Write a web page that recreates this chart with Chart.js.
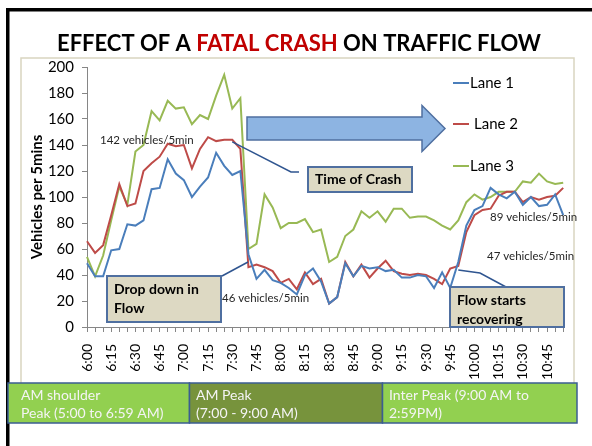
<!DOCTYPE html>
<html lang="en">
<head>
<meta charset="UTF-8">
<title>Effect of a Fatal Crash on Traffic Flow</title>
<script src="https://cdn.jsdelivr.net/npm/chart.js"></script>
<style>
  html, body { margin: 0; padding: 0; background: #fff; }
</style>
</head>
<body>
<canvas id="flowChart" width="592" height="446"></canvas>
<script>
// 5-minute counts, 6:00 to 10:55
const times = [
  "6:00","6:05","6:10","6:15","6:20","6:25","6:30","6:35","6:40","6:45","6:50","6:55",
  "7:00","7:05","7:10","7:15","7:20","7:25","7:30","7:35","7:40","7:45","7:50","7:55",
  "8:00","8:05","8:10","8:15","8:20","8:25","8:30","8:35","8:40","8:45","8:50","8:55",
  "9:00","9:05","9:10","9:15","9:20","9:25","9:30","9:35","9:40","9:45","9:50","9:55",
  "10:00","10:05","10:10","10:15","10:20","10:25","10:30","10:35","10:40","10:45","10:50","10:55"
];
const tickLabels = [
  "6:00","6:15","6:30","6:45","7:00","7:15","7:30","7:45","8:00","8:15",
  "8:30","8:45","9:00","9:15","9:30","9:45","10:00","10:15","10:30","10:45"
];
const lane1 = [
  49, 39, 39, 59, 60, 79, 78, 82, 106, 107, 129, 118, 113, 100, 108, 115, 134, 124, 117, 120,
  56, 37, 44, 36, 34, 30, 25, 40, 45, 35, 18, 23, 49, 39, 47, 45, 46, 43, 44, 38,
  38, 40, 39, 30, 42, 30, 50, 78, 90, 93, 107, 102, 99, 104, 94, 100, 93, 94, 102, 86
];
const lane2 = [
  66, 57, 63, 86, 110, 93, 95, 120, 126, 131, 141, 139, 140, 122, 137, 146, 143, 144, 144, 137,
  46, 48, 46, 43, 34, 37, 29, 42, 33, 37, 18, 23, 50, 39, 48, 38, 45, 51, 43, 41,
  40, 41, 40, 37, 33, 45, 47, 73, 86, 90, 91, 101, 104, 104, 96, 100, 98, 100, 101, 107
];
const lane3 = [
  54, 39, 55, 82, 108, 94, 135, 140, 166, 159, 174, 168, 169, 156, 163, 160, 178, 194, 168, 176,
  60, 64, 102, 92, 76, 80, 80, 83, 73, 75, 50, 54, 70, 75, 89, 84, 89, 81, 91, 91,
  84, 85, 85, 82, 78, 75, 82, 96, 102, 98, 100, 104, 104, 104, 112, 111, 118, 112, 110, 111
];
const periods = [
  { lines: ["AM shoulder", "Peak (5:00 to 6:59 AM)"], color: "#92D050" },
  { lines: ["AM Peak", "(7:00 - 9:00 AM)"], color: "#77933C" },
  { lines: ["Inter Peak (9:00 AM to", "2:59PM)"], color: "#92D050" }
];

const FONT = "Lato, 'Open Sans', sans-serif";

function noteBox(ctx, x, y, w, h, lines, lineYs) {
  ctx.fillStyle = "#DDD9C3";
  ctx.fillRect(x, y, w, h);
  ctx.strokeStyle = "#4F6FA0";
  ctx.lineWidth = 2;
  ctx.strokeRect(x, y, w, h);
  ctx.fillStyle = "#000";
  ctx.font = "bold 14px " + FONT;
  ctx.textAlign = "left";
  ctx.textBaseline = "middle";
  lines.forEach((t, i) => ctx.fillText(t, x + 7, lineYs[i]));
}

function connector(ctx, pts) {
  ctx.strokeStyle = "#2F5590";
  ctx.lineWidth = 1.5;
  ctx.beginPath();
  ctx.moveTo(pts[0][0], pts[0][1]);
  for (let i = 1; i < pts.length; i++) ctx.lineTo(pts[i][0], pts[i][1]);
  ctx.stroke();
}

const decor = {
  id: "decor",
  beforeDraw(chart) {
    const ctx = chart.ctx;
    ctx.save();
    ctx.fillStyle = "#fff";
    ctx.fillRect(0, 0, chart.width, chart.height);
    // slide frame
    ctx.fillStyle = "#000";
    ctx.fillRect(6, 8, 586, 3.5);
    ctx.fillRect(6, 8, 3.5, 438);
    // chart border
    ctx.strokeStyle = "#D9D5C0";
    ctx.lineWidth = 1.5;
    ctx.strokeRect(21, 58, 553, 326);
    // title
    const parts = [["EFFECT OF A ", "#000"], ["FATAL CRASH", "#C00000"], [" ON TRAFFIC FLOW", "#000"]];
    ctx.font = "bold 24px " + FONT;
    const full = parts.map(p => p[0]).join("");
    const size = 24 * 484 / ctx.measureText(full).width;
    ctx.font = "bold " + size.toFixed(1) + "px " + FONT;
    ctx.textBaseline = "alphabetic";
    ctx.textAlign = "left";
    let x = 299 - ctx.measureText(full).width / 2;
    parts.forEach(p => {
      ctx.fillStyle = p[1];
      ctx.fillText(p[0], x, 51);
      x += ctx.measureText(p[0]).width;
    });
    ctx.restore();
  },
  afterDatasetsDraw(chart) {
    const ctx = chart.ctx;
    const xs = chart.scales.x, ys = chart.scales.y;
    ctx.save();

    // block arrow
    ctx.beginPath();
    ctx.moveTo(247, 117);
    ctx.lineTo(422, 117);
    ctx.lineTo(422, 105.5);
    ctx.lineTo(445, 128.5);
    ctx.lineTo(422, 151.5);
    ctx.lineTo(422, 140);
    ctx.lineTo(247, 140);
    ctx.closePath();
    ctx.fillStyle = "#8DB4E2";
    ctx.fill();
    ctx.strokeStyle = "#4F6FA0";
    ctx.lineWidth = 1.5;
    ctx.stroke();

    // value notes
    ctx.fillStyle = "#262626";
    ctx.font = "11.5px " + FONT;
    ctx.textBaseline = "middle";
    ctx.textAlign = "left";
    ctx.fillText("142 vehicles/5min", 100, 140);
    ctx.fillText("46 vehicles/5min", 222, 298);
    ctx.fillText("89 vehicles/5min", 490, 217);
    ctx.fillText("47 vehicles/5min", 487, 256);

    // callouts
    connector(ctx, [[299, 172], [291, 172], [xs.getPixelForValue(18), ys.getPixelForValue(lane2[18]) + 2]]);
    noteBox(ctx, 308, 167, 104, 25, ["Time of Crash"], [179.5]);

    connector(ctx, [[222, 276], [248, 262]]);
    noteBox(ctx, 107, 276, 114, 46, ["Drop down in", "Flow"], [289, 308]);

    connector(ctx, [[506, 287], [480, 273], [xs.getPixelForValue(46), ys.getPixelForValue(lane2[46]) + 4]]);
    noteBox(ctx, 450, 287, 114, 40, ["Flow starts", "recovering"], [300, 319]);

    // legend
    ctx.font = "15px " + FONT;
    ctx.textBaseline = "middle";
    const rows = [83, 124, 166];
    chart.data.datasets.forEach((ds, i) => {
      ctx.strokeStyle = ds.borderColor;
      ctx.lineWidth = 2;
      ctx.beginPath();
      ctx.moveTo(453, rows[i]);
      ctx.lineTo(469, rows[i]);
      ctx.stroke();
      ctx.fillStyle = "#000";
      ctx.fillText(ds.label, i === 1 ? 474 : 470, rows[i]);
    });

    // time-of-day periods
    const edges = [8, 189.5, 382.5, 577];
    const top = 383, h = 40;
    ctx.font = "14px " + FONT;
    periods.forEach((p, i) => {
      const x0 = edges[i], x1 = edges[i + 1];
      ctx.fillStyle = p.color;
      ctx.fillRect(x0, top, x1 - x0, h);
      ctx.strokeStyle = "#3B5E91";
      ctx.lineWidth = 1.5;
      ctx.strokeRect(x0, top, x1 - x0, h);
      ctx.fillStyle = "#F4F4F4";
      ctx.textAlign = "left";
      p.lines.forEach((t, j) => ctx.fillText(t, (i === 0 ? 21 : x0 + 6.5), top + 12 + j * 18));
    });
    ctx.restore();
  }
};

const ctx = document.getElementById("flowChart").getContext("2d");
new Chart(ctx, {
  type: "line",
  data: {
    labels: times,
    datasets: [
      { label: "Lane 1", data: lane1, borderColor: "#4A7EBB", backgroundColor: "#4A7EBB" },
      { label: "Lane 2", data: lane2, borderColor: "#BE4B48", backgroundColor: "#BE4B48" },
      { label: "Lane 3", data: lane3, borderColor: "#98B954", backgroundColor: "#98B954" }
    ]
  },
  options: {
    responsive: false,
    animation: false,
    layout: { padding: { left: 0, top: 67, right: 24, bottom: 60 } },
    elements: {
      point: { radius: 0 },
      line: { borderWidth: 2, tension: 0 }
    },
    plugins: {
      legend: { display: false },
      tooltip: { enabled: false }
    },
    scales: {
      x: {
        offset: false,
        grid: { drawOnChartArea: false, color: "#868686", tickLength: 5 },
        border: { color: "#868686" },
        ticks: {
          autoSkip: false,
          minRotation: 90,
          maxRotation: 90,
          padding: 12,
          color: "#000",
          font: { family: FONT, size: 14 },
          callback: function (v) {
            const l = this.getLabelForValue(v);
            return tickLabels.includes(l) ? l : "";
          }
        },
        afterFit: s => { s.height = 59; }
      },
      y: {
        min: 0,
        max: 200,
        grid: { drawOnChartArea: false, color: "#868686", tickLength: 5 },
        border: { color: "#868686" },
        ticks: { stepSize: 20, padding: 8, color: "#000", font: { family: FONT, size: 15 } },
        title: {
          display: true,
          text: "Vehicles per 5mins",
          color: "#000",
          font: { family: FONT, size: 15, weight: "bold" },
          padding: { top: 28, bottom: 0 }
        },
        afterFit: s => { s.width = 87; }
      }
    }
  },
  plugins: [decor]
});
</script>
</body>
</html>
